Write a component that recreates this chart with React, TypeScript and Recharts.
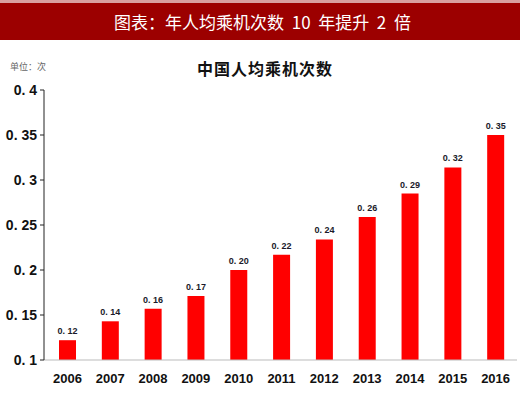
import { BarChart, Bar, XAxis, YAxis, LabelList } from "recharts";

const years = ["2006", "2007", "2008", "2009", "2010", "2011", "2012", "2013", "2014", "2015", "2016"];
const trips = [0.122, 0.143, 0.157, 0.171, 0.2, 0.217, 0.234, 0.259, 0.285, 0.314, 0.35];
const tripLabels = ["0.12", "0.14", "0.16", "0.17", "0.20", "0.22", "0.24", "0.26", "0.29", "0.32", "0.35"];
const yTicks = [0.1, 0.15, 0.2, 0.25, 0.3, 0.35, 0.4];
const yTickLabels = ["0. 1", "0. 15", "0. 2", "0. 25", "0. 3", "0. 35", "0. 4"];

const data = years.map((year, i) => ({ year, value: trips[i], label: tripLabels[i].replace(".", ". ") }));

const cjk = '"Noto Sans CJK SC", sans-serif';
const latin = "Arial, Liberation Sans, sans-serif";

const BarLabel = (props: any) => {
  const { x, y, width, value } = props;
  return (
    <text
      x={x + width / 2}
      y={y - 6}
      textAnchor="middle"
      fill="#1a1a2a"
      fontSize={9}
      fontWeight={700}
      fontFamily={latin}
    >
      {value}
    </text>
  );
};

export default function App() {
  return (
    <div style={{ position: "absolute", left: 0, top: 0, width: 520, height: 394, background: "#fff" }}>
      <div style={{ position: "absolute", left: 0, top: 0, width: 520, height: 3, background: "#d9a0a0" }} />
      <div
        style={{
          position: "absolute",
          left: 0,
          top: 3,
          width: 525,
          height: 37,
          background: "#9c0000",
          color: "#fff",
          fontFamily: cjk,
          fontSize: 17,
          lineHeight: "37px",
          textAlign: "center",
          whiteSpace: "pre",
        }}
      >
        图表：年人均乘机次数  10  年提升  2  倍
      </div>
      <div style={{ position: "absolute", left: 10, top: 60, fontFamily: cjk, fontSize: 9, color: "#666" }}>
        单位：次
      </div>
      <div
        style={{
          position: "absolute",
          left: 0,
          top: 56,
          width: 530,
          textAlign: "center",
          fontFamily: cjk,
          fontSize: 16,
          fontWeight: 700,
          color: "#111",
          letterSpacing: 1,
        }}
      >
        中国人均乘机次数
      </div>
      <BarChart
        width={520}
        height={394}
        data={data}
        margin={{ top: 90, right: 3, left: 0, bottom: 0 }}
        style={{ position: "absolute", left: 0, top: 0 }}
      >
        <XAxis
          dataKey="year"
          height={34}
          stroke="#bbb"
          tickLine={false}
          padding={{ left: 2, right: 0 }}
          tick={{ fill: "#111", fontSize: 13, fontWeight: 700, fontFamily: latin }}
          tickMargin={8}
          interval={0}
        />
        <YAxis
          width={44}
          domain={[0.1, 0.4]}
          ticks={yTicks}
          stroke="#222"
          tickSize={4}
          tickFormatter={(v: number) => yTickLabels[yTicks.indexOf(v)]}
          tick={{ fill: "#111", fontSize: 14, fontWeight: 700, fontFamily: latin }}
          tickMargin={3}
          interval={0}
        />
        <Bar dataKey="value" fill="#ff0000" barSize={17} isAnimationActive={false}>
          <LabelList dataKey="label" content={BarLabel} />
        </Bar>
      </BarChart>
    </div>
  );
}
